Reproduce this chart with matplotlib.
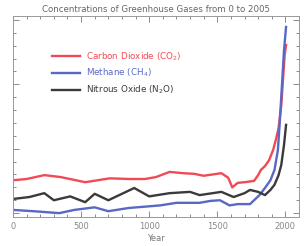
import numpy as np
import matplotlib.pyplot as plt
from matplotlib.ticker import MultipleLocator, AutoMinorLocator

# relative concentration (scaled units)
co2_years = [0, 100, 230, 350, 530, 710, 850, 970, 1050, 1150, 1250, 1330, 1400, 1530, 1580,
             1610, 1650, 1700, 1770, 1800, 1820, 1850, 1880, 1910, 1930, 1950, 1970, 1985, 1995, 2005]
co2_vals = [0.51, 0.53, 0.59, 0.56, 0.48, 0.54, 0.53, 0.53, 0.56, 0.64, 0.62, 0.61, 0.58, 0.62, 0.55,
            0.40, 0.47, 0.48, 0.50, 0.59, 0.67, 0.73, 0.82, 0.98, 1.14, 1.32, 1.68, 2.15, 2.46, 2.61]

ch4_years = [0, 150, 340, 450, 600, 700, 850, 1080, 1200, 1370, 1450, 1520, 1590, 1650, 1740,
             1780, 1810, 1850, 1890, 1920, 1945, 1960, 1975, 1990, 2005]
ch4_vals = [0.05, 0.03, 0.00, 0.05, 0.09, 0.03, 0.08, 0.12, 0.16, 0.16, 0.19, 0.20, 0.12, 0.14, 0.14,
            0.22, 0.28, 0.39, 0.51, 0.67, 0.98, 1.45, 1.99, 2.53, 2.89]

n2o_years = [0, 120, 230, 300, 420, 530, 600, 700, 800, 890, 1000, 1150, 1300, 1370, 1530,
             1620, 1700, 1740, 1800, 1850, 1890, 1920, 1950, 1970, 1990, 2005]
n2o_vals = [0.22, 0.25, 0.31, 0.20, 0.26, 0.17, 0.30, 0.20, 0.30, 0.39, 0.26, 0.31, 0.33, 0.28, 0.33,
            0.25, 0.31, 0.36, 0.33, 0.28, 0.36, 0.44, 0.59, 0.75, 1.06, 1.37]

labels = ['Carbon Dioxide (CO$_2$)', 'Methane (CH$_4$)', 'Nitrous Oxide (N$_2$O)']
colors = ['#f04a55', '#5868c4', '#3a3a3a']

fig = plt.figure(figsize=(3.04, 2.46), dpi=100)
ax = fig.add_axes([13/304, 29/246, 286/304, 201/246])

ax.plot(co2_years, co2_vals, color=colors[0], lw=1.7, label=labels[0])
ax.plot(ch4_years, ch4_vals, color=colors[1], lw=1.7, label=labels[1])
ax.plot(n2o_years, n2o_vals, color=colors[2], lw=1.7, label=labels[2])

ax.set_xlim(0, 2100)
ax.set_ylim(-0.06, 3.06)
ax.xaxis.set_major_locator(MultipleLocator(500))
ax.xaxis.set_minor_locator(MultipleLocator(100))
ax.yaxis.set_major_locator(MultipleLocator(1))
ax.yaxis.set_minor_locator(AutoMinorLocator(5))
ax.tick_params(which='both', direction='in', top=True, right=True, colors='#777777',
               labelsize=6, labelcolor='#888888', width=0.6)
ax.tick_params(which='major', length=4)
ax.tick_params(which='minor', length=2)
ax.set_yticklabels([])
for s in ax.spines.values():
    s.set_color('#999999')
    s.set_linewidth(0.7)

ax.set_xlabel('Year', fontsize=6, color='#777777', labelpad=2)
ax.set_title('Concentrations of Greenhouse Gases from 0 to 2005', fontsize=6.2,
             color='#666666', pad=3)

leg = ax.legend(loc='upper left', bbox_to_anchor=(0.11, 0.87), frameon=False, fontsize=6.3,
                handlelength=3.2, labelspacing=0.5, handletextpad=0.6)
for t, c in zip(leg.get_texts(), colors):
    t.set_color(c)

fig.savefig('out.png', dpi=100)
